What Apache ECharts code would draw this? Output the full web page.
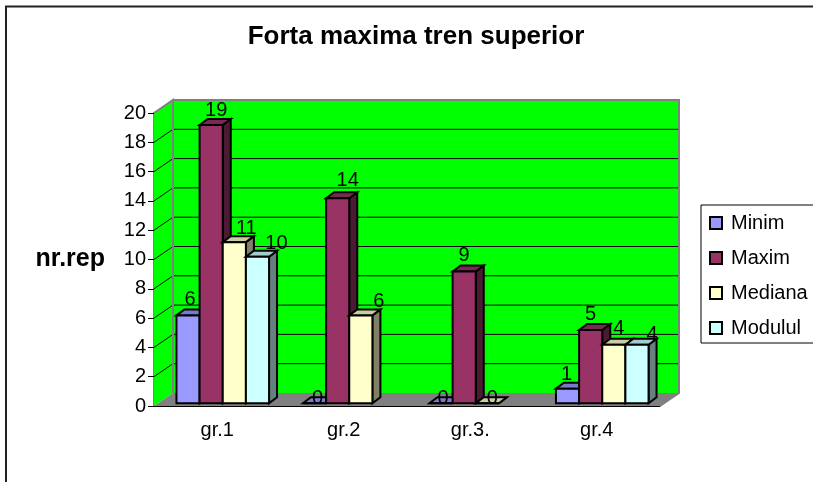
<!DOCTYPE html>
<html>
<head>
<meta charset="utf-8">
<title>Forta maxima tren superior</title>
<style>
  html, body { margin: 0; padding: 0; background: #fff; }
  #chart { width: 813px; height: 482px; }
</style>
<script src="https://cdn.jsdelivr.net/npm/echarts@6/dist/echarts.min.js"></script>
</head>
<body>
<div id="chart"></div>
<script>
// date
const categories = ['gr.1', 'gr.2', 'gr.3.', 'gr.4'];
const minim = [6, 0, 0, 1];
const maxim = [19, 14, 9, 5];
const mediana = [11, 6, 0, 4];
const modulul = [10, null, null, 4];
const yTicks = [0, 2, 4, 6, 8, 10, 12, 14, 16, 18, 20];

const FONT = '"Liberation Sans", Arial, sans-serif';
const depth = { x: 19, y: -13 };      // adancimea peretelui
const barDepth = { x: 8, y: -6 };     // adancimea barei
const barShift = { x: 5.5, y: -2.7 }; // barele stau putin in spatele axei
const barRatio = 0.183;

// decalajul etichetelor fata de mijlocul barei [dx, dy], pe serie si grupa
const labelShift = [
  [[2, -16], [3, -5], [2, -5], [-1, -14]],
  [[5, -14], [10, -18], [0, -16], [0, -16]],
  [[12, -14], [18, -14], [5, -5], [5, -16]],
  [[19, -13], null, null, [15, -10]]
];

// 1 = fata, celelalte mai inchise
function shade(hex, k) {
  const n = parseInt(hex.slice(1), 16);
  const c = [(n >> 16) & 255, (n >> 8) & 255, n & 255].map(v => Math.round(v * k));
  return 'rgb(' + c.join(',') + ')';
}

function poly(points, fill, stroke, width) {
  return {
    type: 'polygon',
    shape: { points: points },
    style: { fill: fill, stroke: stroke, lineWidth: width }
  };
}

// pereti, podea si liniile de grila
function renderWall(params, api) {
  const tick = api.value(0);
  const y = api.coord([0, tick])[1];
  const g = params.coordSys;
  const x0 = g.x, x1 = g.x + g.width;
  const yBack = y + depth.y;
  const lineStyle = { stroke: '#000', lineWidth: 1 };
  const children = [];
  if (params.dataIndex === 0) {
    const top = g.y + depth.y;
    children.push(
      poly([[x0, g.y], [x0 + depth.x, top], [x0 + depth.x, yBack], [x0, y]], '#00ff00'),
      poly([[x0 + depth.x, top], [x1 + depth.x, top], [x1 + depth.x, yBack], [x0 + depth.x, yBack]], '#00ff00'),
      poly([[x0, y], [x0 + depth.x, yBack], [x1 + depth.x, yBack], [x1, y]], '#808080')
    );
  }
  if (tick > 0) {
    children.push({ type: 'line', z2: 5, shape: { x1: x0, y1: y, x2: x0 + depth.x, y2: yBack }, style: lineStyle });
    if (tick < 20) {
      children.push({ type: 'line', z2: 5, shape: { x1: x0 + depth.x, y1: yBack, x2: x1 + depth.x, y2: yBack }, style: lineStyle });
    }
  }
  if (tick === 20) {
    // marginea gri a peretilor
    const bottom = api.coord([0, 0])[1] + depth.y;
    const edge = { stroke: '#808080', lineWidth: 2, fill: 'none' };
    children.push({
      type: 'polyline', z2: 6,
      shape: { points: [[x0, y], [x0 + depth.x, yBack], [x0 + depth.x, bottom]] },
      style: edge
    }, {
      type: 'polyline', z2: 6,
      shape: { points: [[x0 + depth.x, yBack], [x1 + depth.x, yBack], [x1 + depth.x, bottom], [x1, api.coord([0, 0])[1]]] },
      style: edge
    });
  }
  return { type: 'group', children: children };
}

// bara 3D desenata din scala axelor
function barRenderer(seriesPos, color) {
  return function (params, api) {
    const cat = api.value(0);
    const val = api.value(1);
    if (val === null || isNaN(val)) return;
    const band = api.size([1, 0])[0];
    const w = band * barRatio;
    const top = api.coord([cat, val]);
    const base = api.coord([cat, 0]);
    const xl = top[0] + barShift.x + (seriesPos - 2) * w;
    const xr = xl + w;
    const yt = top[1] + barShift.y;
    const yb = base[1] + barShift.y;
    const dx = barDepth.x, dy = barDepth.y;
    const children = [
      poly([[xr, yt], [xr + dx, yt + dy], [xr + dx, yb + dy], [xr, yb]], shade(color, 0.5), '#000', 2),
      poly([[xl, yt], [xl + dx, yt + dy], [xr + dx, yt + dy], [xr, yt]], shade(color, 0.8), '#000', 2),
      poly([[xl, yt], [xr, yt], [xr, yb], [xl, yb]], color, '#000', 2)
    ];
    const shift = labelShift[seriesPos][cat];
    children.push({
      type: 'text',
      z2: 100,
      style: {
        text: String(val),
        x: (xl + xr) / 2 + shift[0],
        y: yt + shift[1],
        align: 'center',
        verticalAlign: 'middle',
        fill: '#000',
        font: '20px ' + FONT
      }
    });
    return { type: 'group', children: children };
  };
}

function barSeries(name, values, pos, color) {
  return {
    name: name,
    type: 'custom',
    renderItem: barRenderer(pos, color),
    itemStyle: { color: color, borderColor: '#000', borderWidth: 1.5 },
    encode: { x: 0, y: 1 },
    data: values.map((v, i) => [i, v]),
    clip: false,
    animation: false
  };
}

const chart = echarts.init(document.getElementById('chart'), null, { renderer: 'canvas' });

chart.setOption({
  animation: false,
  backgroundColor: '#fff',
  textStyle: { fontFamily: FONT, color: '#000' },
  title: {
    text: 'Forta maxima tren superior',
    left: 411,
    top: 19,
    textAlign: 'center',
    textStyle: { fontFamily: FONT, fontSize: 26, fontWeight: 'bold', color: '#000' }
  },
  legend: {
    orient: 'vertical',
    left: 701,
    top: 205,
    padding: [8, 6, 5, 8],
    itemWidth: 12,
    itemHeight: 12,
    itemGap: 15,
    borderColor: '#000',
    borderWidth: 1,
    icon: 'rect',
    textStyle: { fontFamily: FONT, fontSize: 20, color: '#000', padding: [0, 0, 0, 4] },
    data: ['Minim', 'Maxim', 'Mediana', 'Modulul']
  },
  grid: { left: 154, top: 113, width: 506, height: 293 },
  xAxis: {
    type: 'category',
    data: categories,
    axisLine: { lineStyle: { color: '#000', width: 1 } },
    axisTick: { length: 6, lineStyle: { color: '#000' } },
    axisLabel: { color: '#000', fontFamily: FONT, fontSize: 20, margin: 14 },
    splitLine: { show: false }
  },
  yAxis: {
    type: 'value',
    min: 0,
    max: 20,
    interval: 2,
    name: 'nr.rep',
    nameLocation: 'middle',
    nameRotate: 0,
    nameGap: 49,
    nameTextStyle: { fontFamily: FONT, fontSize: 25, fontWeight: 'bold', color: '#000' },
    axisLine: { show: true, lineStyle: { color: '#808080', width: 2 } },
    axisTick: { show: true, length: 6, lineStyle: { color: '#000' } },
    axisLabel: { color: '#000', fontFamily: FONT, fontSize: 20, margin: 8 },
    splitLine: { show: false }
  },
  series: [
    {
      name: 'perete',
      type: 'custom',
      renderItem: renderWall,
      data: yTicks.map(t => [t]),
      encode: { y: 0 },
      clip: false,
      silent: true,
      z: 1
    },
    barSeries('Minim', minim, 0, '#9999ff'),
    barSeries('Maxim', maxim, 1, '#993366'),
    barSeries('Mediana', mediana, 2, '#ffffcc'),
    barSeries('Modulul', modulul, 3, '#ccffff')
  ],
  graphic: [
    {
      // chenarul exterior al graficului
      type: 'rect',
      silent: true,
      shape: { x: 6, y: 6.5, width: 820, height: 490 },
      style: { fill: 'none', stroke: '#222', lineWidth: 2 }
    }
  ]
});
</script>
</body>
</html>
